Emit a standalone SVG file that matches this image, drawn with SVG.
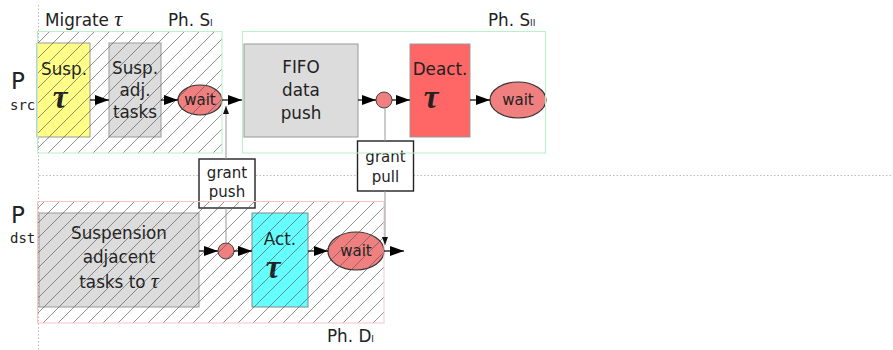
<svg xmlns="http://www.w3.org/2000/svg" width="893" height="350" viewBox="0 0 893 350">
<style>
text{font-family:"DejaVu Sans","Open Sans",sans-serif;fill:#222}
.lbl{font-size:16.8px}
.big{font-size:16.8px;text-anchor:middle}
.tau{font-family:"Liberation Serif","DejaVu Serif",serif;font-style:italic;font-weight:bold;font-size:33px;text-anchor:middle}
.mt{font-family:"Liberation Serif","DejaVu Serif",serif;font-style:italic;font-size:22px}
.sub{font-size:9px}
.mono{font-family:"DejaVu Sans Mono","Liberation Mono",monospace;font-size:14px}
.P{font-size:23px}
.gray{fill:#dcdcdc;stroke:#999;stroke-width:1}
.wait{fill:#f08080;stroke:#333;stroke-width:1.2}
.small{fill:#f08080;stroke:#444;stroke-width:1}
.grant{fill:#fff;stroke:#222;stroke-width:1.4}
.gt{font-size:15px;text-anchor:middle}
.wt{font-size:15px;text-anchor:middle}
.arr{stroke:#000;stroke-width:1.2;fill:none;marker-end:url(#ah)}
.gl{stroke:#999;stroke-width:1;fill:none}
.guide{stroke:#bbb;stroke-width:1;stroke-dasharray:1.5 2;fill:none}
.regS{stroke:#b8f0c8;stroke-width:1}
.regD{stroke:#f8c4c4;stroke-width:1}
</style>
<defs>
<pattern id="hatch" patternUnits="userSpaceOnUse" x="6" y="0" width="15" height="15">
<path d="M-2,2 L2,-2 M0,15 L15,0 M13,17 L17,13" stroke="#555" stroke-width="0.65"/>
</pattern>
<marker id="ah" viewBox="0 0 14 10" refX="14" refY="5" markerWidth="14" markerHeight="10" markerUnits="userSpaceOnUse" orient="auto">
<path d="M0,0 L14,5 L0,10 z" fill="#000"/>
</marker>
<marker id="ahs" viewBox="0 0 8 6" refX="8" refY="3" markerWidth="8" markerHeight="6" markerUnits="userSpaceOnUse" orient="auto">
<path d="M0,0 L8,3 L0,6 z" fill="#111"/>
</marker>
</defs>
<rect width="893" height="350" fill="#fff"/>
<g id="guides">
<line class="guide" x1="38.5" y1="5" x2="38.5" y2="350"/>
<line class="guide" x1="39" y1="175.5" x2="893" y2="175.5"/>
</g>
<g id="labels">
<text class="lbl" x="45" y="26">Migrate <tspan class="mt">τ</tspan></text>
<text class="lbl" x="168" y="26">Ph. S<tspan class="sub">I</tspan></text>
<text class="lbl" x="488" y="26">Ph. S<tspan class="sub">II</tspan></text>
<text class="lbl" x="327" y="342">Ph. D<tspan class="sub">I</tspan></text>
<text class="P" x="11" y="89">P</text>
<text class="mono" x="10" y="110">src</text>
<text class="P" x="11" y="223">P</text>
<text class="mono" x="10" y="243">dst</text>
</g>
<g id="susp-tau">
<rect x="37" y="43" width="53" height="94" fill="#ffff88" stroke="#999"/>
<text class="big" x="64" y="75">Susp.</text>
<text class="tau" x="60" y="108">τ</text>
</g>
<g id="susp-adj">
<rect class="gray" x="109" y="43" width="52" height="94"/>
<text class="big" x="135" y="74">Susp.</text>
<text class="big" x="135" y="96">adj.</text>
<text class="big" x="135" y="118">tasks</text>
</g>
<g id="wait1">
<ellipse class="wait" cx="200" cy="100" rx="22" ry="15"/>
<text class="wt" x="200" y="105">wait</text>
</g>
<g id="fifo">
<rect class="gray" x="244" y="44" width="114" height="93"/>
<text class="big" x="301" y="73">FIFO</text>
<text class="big" x="301" y="96">data</text>
<text class="big" x="301" y="119">push</text>
</g>
<g id="join1">
<circle class="small" cx="384" cy="100" r="8"/>
</g>
<g id="deact">
<rect x="410" y="44" width="60" height="93" fill="#ff6666" stroke="#999"/>
<text class="big" x="440" y="75">Deact.</text>
<text class="tau" x="431" y="108">τ</text>
</g>
<g id="wait3">
<ellipse class="wait" cx="518" cy="100" rx="28" ry="18"/>
<text class="wt" x="518" y="105">wait</text>
</g>
<g id="grant-push">
<rect class="grant" x="199" y="159" width="56" height="49"/>
<text class="gt" x="227" y="178">grant</text>
<text class="gt" x="227" y="197">push</text>
</g>
<g id="grant-pull">
<rect class="grant" x="357.5" y="141" width="56" height="50"/>
<text class="gt" x="385.5" y="162">grant</text>
<text class="gt" x="385.5" y="182">pull</text>
</g>
<g id="susp-adjacent">
<rect class="gray" x="39" y="213" width="160" height="94"/>
<text class="big" x="119" y="239">Suspension</text>
<text class="big" x="119" y="263">adjacent</text>
<text class="big" x="119" y="288">tasks to <tspan class="mt">τ</tspan></text>
</g>
<g id="join2">
<circle class="small" cx="226" cy="251" r="8"/>
</g>
<g id="act">
<rect x="252" y="213" width="56" height="94" fill="#66ffff" stroke="#888"/>
<text class="big" x="280" y="245">Act.</text>
<text class="tau" x="273" y="278">τ</text>
</g>
<g id="wait2">
<ellipse class="wait" cx="356" cy="251" rx="28" ry="19"/>
<text class="wt" x="356" y="256">wait</text>
</g>
<g id="regions">
<rect class="regS" x="37.5" y="31.5" width="184.5" height="121.5" fill="url(#hatch)"/>
<rect class="regS" x="242.5" y="31.5" width="303" height="121.5" fill="none"/>
<rect class="regD" x="37.5" y="201.5" width="346.5" height="121.5" fill="url(#hatch)"/>
</g>
<g id="connectors">
<line class="arr" x1="90" y1="100" x2="109" y2="100"/>
<line class="arr" x1="161" y1="100" x2="178" y2="100"/>
<line class="arr" x1="222" y1="100" x2="242" y2="100"/>
<line class="arr" x1="358" y1="100" x2="376" y2="100"/>
<line class="arr" x1="392" y1="100" x2="410" y2="100"/>
<line class="arr" x1="470" y1="100" x2="490" y2="100"/>
<line class="arr" x1="199" y1="251" x2="218" y2="251"/>
<line class="arr" x1="234" y1="251" x2="252" y2="251"/>
<line class="arr" x1="308" y1="251" x2="328" y2="251"/>
<line class="arr" x1="384" y1="251" x2="404" y2="251"/>
<line class="gl" x1="226" y1="159" x2="226" y2="106" marker-end="url(#ahs)"/>
<line class="gl" x1="226" y1="208" x2="226" y2="243"/>
<line class="gl" x1="385" y1="108" x2="385" y2="141"/>
<line class="gl" x1="385" y1="191" x2="385" y2="245" marker-end="url(#ahs)"/>
</g>
</svg>
